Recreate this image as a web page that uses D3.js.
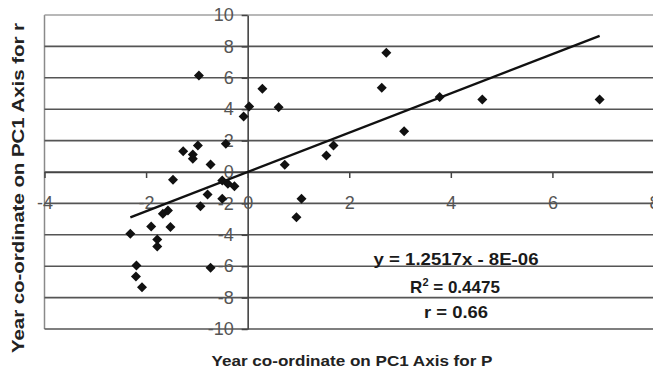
<!DOCTYPE html>
<html><head><meta charset="utf-8">
<script src="https://cdn.jsdelivr.net/npm/d3@7"></script>
<style>
html,body{margin:0;padding:0;background:#fff;}
svg{display:block;font-family:"Liberation Sans",Arial,sans-serif;}
</style></head>
<body>
<svg id="chart" width="653" height="369"></svg>
<script>
// Data
const xValues = [-0.96, 0.29, 0.03, -0.08, 0.61, -0.43, -0.98, -1.27, -1.08, -1.08,
  -0.73, -1.47, -0.5, -0.39, -0.26, -0.79, -0.5, -0.93, -1.67, -1.57,
  -1.9, -1.52, -2.31, -1.78, -1.78, -2.19, -0.73, -2.2, -2.08, 0.73,
  1.55, 1.69, 1.06, 0.96, 2.73, 2.64, 3.78, 4.62, 6.93, 3.08];
const yValues = [6.15, 5.3, 4.17, 3.54, 4.13, 1.8, 1.69, 1.32, 1.11, 0.84,
  0.48, -0.5, -0.54, -0.75, -0.9, -1.43, -1.71, -2.18, -2.66, -2.45,
  -3.47, -3.5, -3.94, -4.3, -4.75, -5.96, -6.1, -6.66, -7.34, 0.46,
  1.05, 1.69, -1.71, -2.88, 7.59, 5.36, 4.77, 4.62, 4.62, 2.6];
const xTicks = [-4, -2, 0, 2, 4, 6, 8];
const yTicks = [-10, -8, -6, -4, -2, 0, 2, 4, 6, 8, 10];
const slope = 1.2517;
const intercept = -0.000008;
const eqLines = ["y = 1.2517x - 8E-06", "R2 = 0.4475", "r = 0.66"];
const xTitle = "Year co-ordinate on PC1 Axis for P";
const yTitle = "Year co-ordinate on PC1 Axis for r";

const svg = d3.select("#chart");
const x = d3.scaleLinear().domain([-4, 8]).range([44.5, 654]);
const y = d3.scaleLinear().domain([-10, 10]).range([329, 15]);

// frame + gridlines
svg.append("line").attr("x1", x(-4)).attr("x2", x(-4)).attr("y1", y(10)).attr("y2", y(-10))
  .attr("stroke", "#8a8a8a").attr("stroke-width", 1.5);
svg.append("g").selectAll("line").data(yTicks).join("line")
  .attr("x1", x(-4)).attr("x2", 653)
  .attr("y1", d => y(d)).attr("y2", d => y(d))
  .attr("stroke", d => d === 10 ? "#a0a0a0" : "#555")
  .attr("stroke-width", 1.6);

// axes
const fmt = d => String(d);
const yAxis = svg.append("g").attr("transform", `translate(${x(0)},0)`)
  .call(d3.axisLeft(y).tickValues(yTicks).tickFormat(fmt).tickSize(6).tickSizeOuter(0).tickPadding(8));
const xAxis = svg.append("g").attr("transform", `translate(0,${y(0)})`)
  .call(d3.axisBottom(x).tickValues(xTicks).tickFormat(fmt).tickSize(6).tickSizeOuter(0).tickPadding(18));
[yAxis, xAxis].forEach(a => {
  a.select(".domain").attr("stroke", "#444").attr("stroke-width", 1.6);
  a.selectAll(".tick line").attr("stroke", "#444").attr("stroke-width", 1.5);
  a.selectAll(".tick text").attr("fill", "#555").attr("font-size", 18)
    .attr("font-family", "'Liberation Sans',Arial,sans-serif");
});

// points
const pts = xValues.map((v, i) => [v, yValues[i]]);
svg.append("g").selectAll("path").data(pts).join("path")
  .attr("d", d3.symbol(d3.symbolSquare, 50))
  .attr("transform", d => `translate(${x(d[0])},${y(d[1])}) rotate(45)`)
  .attr("fill", "#111");

// trend line
const [xmin, xmax] = d3.extent(xValues);
svg.append("line")
  .attr("x1", x(xmin)).attr("y1", y(slope * xmin + intercept))
  .attr("x2", x(xmax)).attr("y2", y(slope * xmax + intercept))
  .attr("stroke", "#111").attr("stroke-width", 2.4);

// equation text
const eqPos = [[456, 265, 165], [455, 293, 97], [456, 318, 64]];
eqLines.forEach((t, i) => {
  const txt = svg.append("text").attr("x", eqPos[i][0]).attr("y", eqPos[i][1])
    .attr("text-anchor", "middle").attr("font-weight", "bold").attr("font-size", 17)
    .attr("fill", "#1a1a1a");
  if (i === 1) {
    txt.append("tspan").text("R");
    txt.append("tspan").text("2").attr("font-size", 11).attr("dy", -7);
    txt.append("tspan").text(" = 0.4475").attr("dy", 7);
  } else {
    txt.text(t).attr("textLength", eqPos[i][2]).attr("lengthAdjust", "spacingAndGlyphs");
  }
});

// axis titles
svg.append("text").attr("x", 352).attr("y", 366).attr("text-anchor", "middle")
  .attr("font-weight", "bold").attr("font-size", 15).attr("fill", "#222")
  .attr("textLength", 281).attr("lengthAdjust", "spacingAndGlyphs").text(xTitle);
svg.append("text").attr("transform", "translate(24,188) rotate(-90)").attr("text-anchor", "middle")
  .attr("font-weight", "bold").attr("font-size", 16).attr("fill", "#222")
  .attr("textLength", 330).attr("lengthAdjust", "spacingAndGlyphs").text(yTitle);
</script>
</body></html>
